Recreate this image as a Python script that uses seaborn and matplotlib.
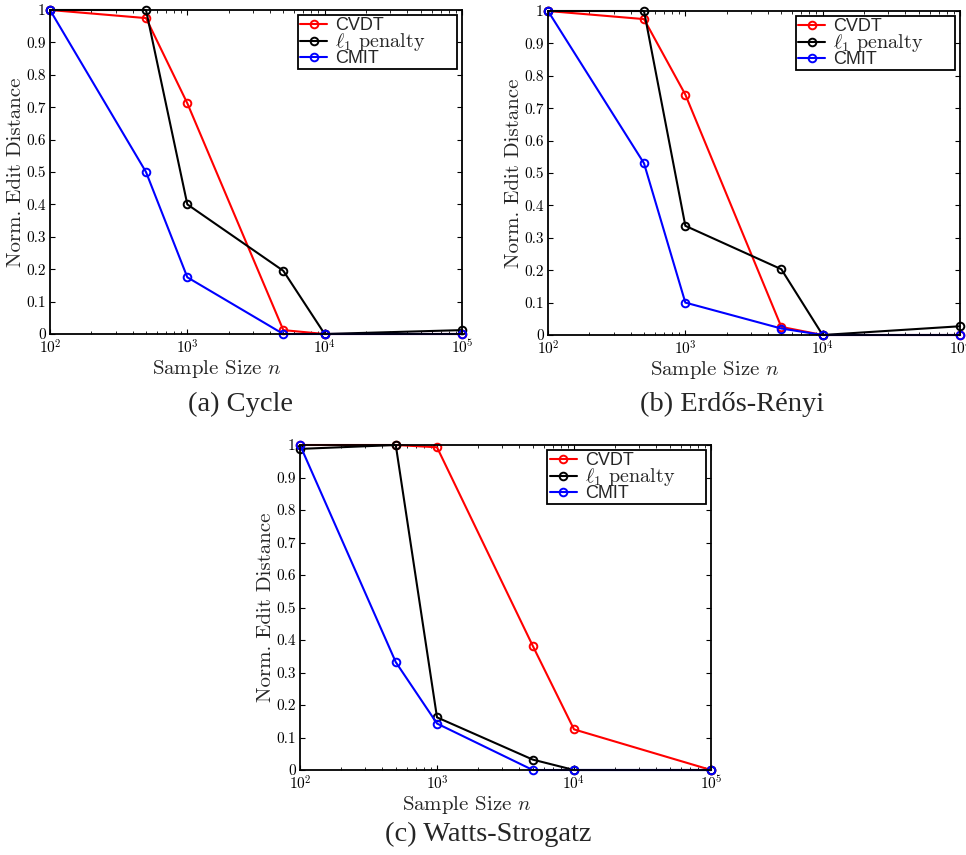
import matplotlib
matplotlib.use('Agg')
import matplotlib.pyplot as plt
import seaborn as sns
from matplotlib.ticker import FixedLocator, FuncFormatter

# sample sizes shared by all three panels
sample_sizes = [100, 500, 1000, 5000, 10000, 100000]
methods = ['CVDT', r'$\ell_1$ penalty', 'CMIT']
colors = ['red', 'black', 'blue']

# (a) Cycle
cycle_cvdt = [1.0, 0.975, 0.712, 0.012, 0.0, 0.0]
cycle_l1 = [1.0, 1.0, 0.40, 0.195, 0.0, 0.012]
cycle_cmit = [1.0, 0.50, 0.175, 0.0, 0.0, 0.0]

# (b) Erdos-Renyi
er_cvdt = [1.0, 0.975, 0.742, 0.025, 0.0, 0.0]
er_l1 = [1.0, 1.0, 0.337, 0.203, 0.0, 0.027]
er_cmit = [1.0, 0.53, 0.10, 0.02, 0.0, 0.0]

# (c) Watts-Strogatz
ws_cvdt = [1.0, 1.0, 0.993, 0.382, 0.125, 0.0]
ws_l1 = [0.988, 1.0, 0.162, 0.032, 0.0, 0.0]
ws_cmit = [1.0, 0.332, 0.143, 0.0, 0.0, 0.0]

captions = ['(a) Cycle', '(b) Erdős-Rényi', '(c) Watts-Strogatz']
yticks = [0, 0.1, 0.2, 0.3, 0.4, 0.5, 0.6, 0.7, 0.8, 0.9, 1.0]

sns.set_style('ticks')
plt.rcParams.update({
    'font.family': 'serif',
    'font.serif': ['cmr10'],
    'mathtext.fontset': 'cm',
    'axes.formatter.use_mathtext': True,
    'xtick.direction': 'in',
    'ytick.direction': 'in',
    'xtick.top': True,
    'ytick.right': True,
    'axes.edgecolor': 'black',
    'axes.linewidth': 1.3,
    'xtick.major.size': 3.5,
    'ytick.major.size': 3.5,
    'xtick.minor.size': 2,
    'xtick.color': 'black',
    'ytick.color': 'black',
})

fig = plt.figure(figsize=(9.66, 8.55), dpi=100)
positions = [
    [50 / 966, 1 - 334 / 855, 412 / 966, 324 / 855],
    [548 / 966, 1 - 335 / 855, 412 / 966, 324 / 855],
    [300 / 966, 1 - 770 / 855, 411 / 966, 325 / 855],
]
panels = [
    [cycle_cvdt, cycle_l1, cycle_cmit],
    [er_cvdt, er_l1, er_cmit],
    [ws_cvdt, ws_l1, ws_cmit],
]
caption_pos = [(241, 404), (732, 404), (488, 834)]

for pos, series, cap, cpos in zip(positions, panels, captions, caption_pos):
    ax = fig.add_axes(pos)
    for name, vals, col in zip(methods, series, colors):
        sns.lineplot(x=sample_sizes, y=vals, ax=ax, color=col, label=name,
                     marker='o', markersize=5.5, mfc='none', mec=col, mew=1.4,
                     linewidth=1.5, clip_on=False)
    ax.set_xscale('log')
    ax.set_xlim(100, 100000)
    ax.set_ylim(0, 1)
    ax.yaxis.set_major_locator(FixedLocator(yticks))
    ax.yaxis.set_major_formatter(FuncFormatter(lambda v, p: '%g' % v))
    ax.tick_params(labelsize=11, pad=3)
    ax.set_xlabel('Sample Size $n$', fontsize=15, labelpad=1,
                  ha='left', x=102 / 412)
    ax.set_ylabel('Norm. Edit Distance', fontsize=15, labelpad=1)
    # wide box like the original MATLAB legend, entries left-aligned
    leg = ax.legend(loc='upper right', bbox_to_anchor=(0.602, 0, 0.386, 0.985),
                    mode='expand', borderaxespad=0, frameon=True,
                    fancybox=False, edgecolor='black', framealpha=1,
                    fontsize=13, borderpad=0.12, labelspacing=-0.17,
                    handlelength=1.5, handletextpad=0.45)
    leg.get_frame().set_linewidth(1.3)
    for t in leg.get_texts():
        if 'penalty' in t.get_text():
            t.set_fontsize(14.5)
        else:
            t.set_family('Liberation Sans')
    fig.text(cpos[0] / 966, 1 - cpos[1] / 855, cap, ha='center', va='center',
             fontsize=20.5, family='Liberation Serif')

fig.savefig('out.png', dpi=100)
